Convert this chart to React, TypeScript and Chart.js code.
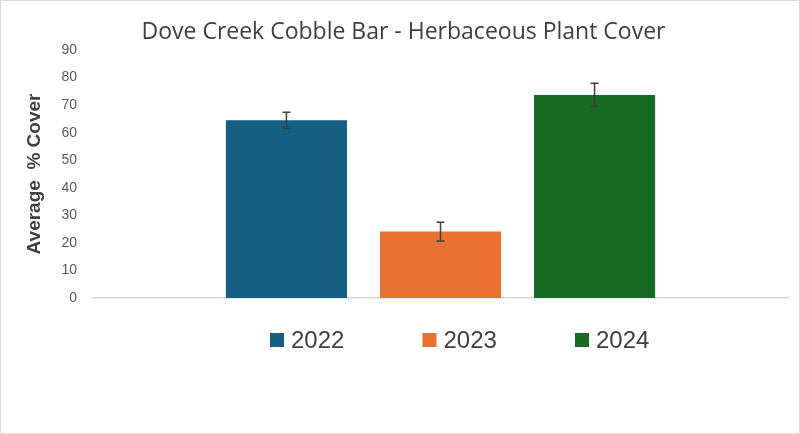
import React, { useEffect, useRef } from "react";
import { Chart, registerables } from "chart.js";

Chart.register(...registerables);

const categories = [""];
const seriesLabels = ["2022", "2023", "2024"];
const seriesValues = [64.5, 24.1, 73.7];
const seriesErrors = [2.9, 3.4, 4.2];
const seriesColors = ["#156082", "#E97132", "#196B24"];
const yTicks = { min: 0, max: 90, step: 10 };

const errorBarPlugin = {
  id: "errorBars",
  afterDatasetsDraw(chart: any) {
    const ctx = chart.ctx;
    const y = chart.scales.y;
    ctx.save();
    ctx.strokeStyle = "#404040";
    ctx.lineWidth = 1.5;
    chart.data.datasets.forEach((ds: any, i: number) => {
      const meta = chart.getDatasetMeta(i);
      meta.data.forEach((el: any, j: number) => {
        const v = ds.data[j];
        const e = ds.errors[j];
        const x = el.x;
        const yt = y.getPixelForValue(v + e);
        const yb = y.getPixelForValue(v - e);
        ctx.beginPath();
        ctx.moveTo(x, yt);
        ctx.lineTo(x, yb);
        ctx.moveTo(x - 4, yt);
        ctx.lineTo(x + 4, yt);
        ctx.moveTo(x - 4, yb);
        ctx.lineTo(x + 4, yb);
        ctx.stroke();
      });
    });
    ctx.restore();
  },
};

const legendPlugin = {
  id: "customLegend",
  afterDraw(chart: any) {
    const ctx = chart.ctx;
    const ds = chart.data.datasets;
    const pitch = 152.5;
    const startX = 270;
    const cy = 340;
    ctx.save();
    ctx.font = '24px "Liberation Sans", Arial, sans-serif';
    ctx.textBaseline = "middle";
    ctx.textAlign = "left";
    ds.forEach((d: any, i: number) => {
      const x = startX + i * pitch;
      ctx.fillStyle = d.backgroundColor;
      ctx.fillRect(x, cy - 7, 14, 14);
      ctx.fillStyle = "#404040";
      ctx.fillText(d.label, x + 21, cy + 1);
    });
    ctx.restore();
  },
};

export default function App() {
  const ref = useRef<HTMLCanvasElement | null>(null);
  useEffect(() => {
    document.body.style.margin = "0";
    if (!ref.current) return;
    const chart = new Chart(ref.current, {
      type: "bar",
      data: {
        labels: categories,
        datasets: seriesLabels.map((label, i) => ({
          label,
          data: [seriesValues[i]],
          errors: [seriesErrors[i]],
          backgroundColor: seriesColors[i],
          borderWidth: 0,
          categoryPercentage: 0.665,
          barPercentage: 0.786,
        })) as any,
      },
      options: {
        animation: false,
        responsive: false,
        devicePixelRatio: 1,
        layout: { padding: { left: 19, right: 12, top: 0, bottom: 136 } },
        plugins: {
          legend: { display: false },
          tooltip: { enabled: false },
          title: {
            display: true,
            text: "Dove Creek Cobble Bar - Herbaceous Plant Cover",
            color: "#404040",
            font: { family: '"Open Sans", sans-serif', size: 23, weight: "normal" },
            padding: { top: 18.7, bottom: 3.7 },
          },
        },
        scales: {
          x: {
            grid: { display: false, drawTicks: false },
            ticks: { display: false },
            border: { display: true, color: "#d9d9d9", width: 1.5 },
          },
          y: {
            min: yTicks.min,
            max: yTicks.max,
            afterFit(scale: any) {
              scale.width = 74;
            },
            grid: { display: false, drawTicks: false },
            border: { display: false },
            ticks: {
              stepSize: yTicks.step,
              padding: 16,
              color: "#595959",
              font: { family: '"Liberation Sans", Arial, sans-serif', size: 14 },
            },
            title: {
              display: true,
              text: "Average  % Cover",
              color: "#404040",
              font: { family: '"Liberation Sans", Arial, sans-serif', size: 19, weight: "bold" },
              padding: { top: 4, bottom: 16 },
            },
          },
        },
      },
      plugins: [errorBarPlugin, legendPlugin],
    });
    return () => chart.destroy();
  }, []);
  return (
    <div
      style={{
        position: "absolute",
        left: 0,
        top: 0,
        width: 800,
        height: 434,
        boxSizing: "border-box",
        border: "1px solid #d9d9d9",
        background: "#fff",
        overflow: "hidden",
      }}
    >
      <canvas ref={ref} width={800} height={434} style={{ position: "absolute", left: -1, top: -1 }} />
    </div>
  );
}
